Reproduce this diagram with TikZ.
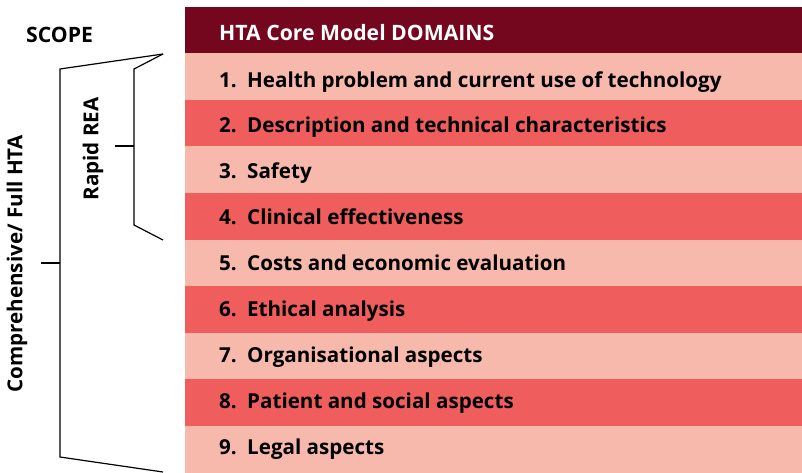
\documentclass[tikz,border=0pt]{standalone}
\usepackage{fontspec}
\setmainfont{Open Sans}
\usetikzlibrary{positioning}
\definecolor{hdred}{RGB}{116,6,30}
\definecolor{rowlight}{RGB}{247,185,171}
\definecolor{rowdark}{RGB}{239,93,93}
\tikzset{
  lightrow/.style={fill=rowlight, minimum width=617pt, minimum height=46.6pt, inner sep=0pt, anchor=north west},
  darkrow/.style={lightrow, fill=rowdark},
  dom/.style={anchor=base west, inner sep=0pt, font=\fontsize{20.6}{24}\selectfont\bfseries},
  big/.style={font=\fontsize{21.2}{24}\selectfont\bfseries},
  brack/.style={line width=1.2pt, black},
}
\newcommand{\dnum}[1]{\makebox[28pt][l]{#1}}

\begin{document}
\begin{tikzpicture}[x=1pt, y=-1pt]
\useasboundingbox (0,0) rectangle (802,472);

% header
\node [lightrow, fill=hdred, minimum height=46pt] (hd) at (185,7) {};
\node [dom, big, white] (hdtext) at (219,40) {HTA Core Model DOMAINS};
\node [dom, big] (scope) at (26,42) {SCOPE};

% domain rows
\node [lightrow] (r1) at (185,53)    {};
\node [darkrow]  (r2) at (185,99.6)  {};
\node [lightrow] (r3) at (185,146.2) {};
\node [darkrow]  (r4) at (185,192.8) {};
\node [lightrow] (r5) at (185,239.4) {};
\node [darkrow]  (r6) at (185,286)   {};
\node [lightrow] (r7) at (185,332.6) {};
\node [darkrow]  (r8) at (185,379.2) {};
\node [lightrow] (r9) at (185,425.8) {};

\node [dom] (d1) at (219,87)    {\dnum{1.}Health problem and current use of technology};
\node [dom] (d2) at (219,132.9) {\dnum{2.}Description and technical characteristics};
\node [dom] (d3) at (219,178.8) {\dnum{3.}Safety};
\node [dom] (d4) at (219,224.7) {\dnum{4.}Clinical effectiveness};
\node [dom] (d5) at (219,270.6) {\dnum{5.}Costs and economic evaluation};
\node [dom] (d6) at (219,316.5) {\dnum{6.}Ethical analysis};
\node [dom] (d7) at (219,362.4) {\dnum{7.}Organisational aspects};
\node [dom] (d8) at (219,408.3) {\dnum{8.}Patient and social aspects};
\node [dom] (d9) at (219,454.2) {\dnum{9.}Legal aspects};

% scope brackets
\node [dom, anchor=center, rotate=90] (rea)  at (93,149) {Rapid REA};
\node [dom, anchor=center, rotate=90] (full) at (17,264) {Comprehensive/ Full HTA};

\coordinate (tip) at (163,54);
\coordinate (rea top) at (134,69);
\coordinate (rea bot) at (134,225);
\coordinate (rea end) at (163,240);
\coordinate (rea mid) at (134,146);
\coordinate (rea tick) at (115,146);
\draw [brack] (tip) -- (rea top) -- (rea bot) -- (rea end);
\draw [brack] (rea tick) -- (rea mid);

\coordinate (full top) at (60,69);
\coordinate (full bot) at (60,457);
\coordinate (full end) at (163,472);
\coordinate (full mid) at (60,263);
\coordinate (full tick) at (41,263);
\draw [brack] (tip) -- (full top) -- (full bot) -- (full end);
\draw [brack] (full tick) -- (full mid);
\end{tikzpicture}
\end{document}
